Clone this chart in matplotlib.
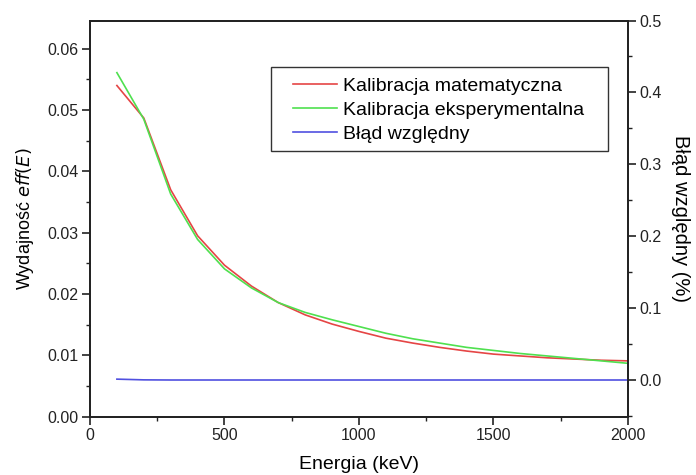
import matplotlib
matplotlib.use('Agg')
import matplotlib.pyplot as plt
from matplotlib.patches import Rectangle
from matplotlib.ticker import MultipleLocator, FormatStrFormatter

# Energy grid (keV)
energies = [100, 200, 300, 400, 500, 600, 700, 800, 900, 1000,
            1100, 1200, 1300, 1400, 1500, 1600, 1700, 1800, 1900, 2000]

# Efficiency from the mathematical calibration
eff_math = [0.0540, 0.0487, 0.0370, 0.0295, 0.0247, 0.0213, 0.0186, 0.0166,
            0.0151, 0.0139, 0.0128, 0.0120, 0.0113, 0.0107, 0.0102, 0.0099,
            0.0096, 0.0094, 0.0092, 0.0091]

# Efficiency from the experimental calibration
eff_exp = [0.0561, 0.0485, 0.0363, 0.0289, 0.0241, 0.0210, 0.0186, 0.0170,
           0.0158, 0.0147, 0.0136, 0.0127, 0.0120, 0.0113, 0.0108, 0.0103,
           0.0099, 0.0095, 0.0091, 0.0087]

# Relative error (%)
rel_err = [0.0012, 0.0002, 0.0, 0.0, 0.0, 0.0, 0.0, 0.0, 0.0, 0.0,
           0.0, 0.0, 0.0, 0.0, 0.0, 0.0, 0.0, 0.0, 0.0, 0.0]

plt.rcParams['font.family'] = ['Liberation Sans', 'DejaVu Sans']

fig = plt.figure(figsize=(6.96, 4.75), dpi=100)
ax = fig.add_axes([0.1293, 0.1228, 0.7730, 0.8340])
ax2 = ax.twinx()

l1, = ax.plot(energies, eff_math, color='#e54545', lw=1.2, label='Kalibracja matematyczna')
l2, = ax.plot(energies, eff_exp, color='#4fe04f', lw=1.2, label='Kalibracja eksperymentalna')
l3, = ax2.plot(energies, rel_err, color='#5050e0', lw=1.2, label='Błąd względny')

ax.set_xlim(0, 2000)
ax.set_ylim(0, 0.0646)
ax2.set_ylim(-0.051, 0.5)

ax.xaxis.set_major_locator(MultipleLocator(500))
ax.xaxis.set_minor_locator(MultipleLocator(250))
ax.yaxis.set_major_locator(MultipleLocator(0.01))
ax.yaxis.set_minor_locator(MultipleLocator(0.005))
ax.yaxis.set_major_formatter(FormatStrFormatter('%.2f'))
ax2.yaxis.set_major_locator(MultipleLocator(0.1))
ax2.yaxis.set_minor_locator(MultipleLocator(0.05))
ax2.yaxis.set_major_formatter(FormatStrFormatter('%.1f'))

for a in (ax, ax2):
    for s in a.spines.values():
        s.set_linewidth(1.3)
        s.set_color('#222222')
    a.tick_params(which='major', direction='out', length=6, width=1.2,
                  labelsize=11.5, colors='#222222', pad=2.5)
    a.tick_params(which='minor', direction='out', length=3, width=1.0,
                  colors='#222222')

ax.set_xlabel('Energia (keV)', fontsize=14, labelpad=9)
ax.set_ylabel('Wydajność $\\it{eff(E)}$', fontsize=13, labelpad=8)
ax2.set_ylabel('Błąd względny (%)', fontsize=14.5, rotation=-90, labelpad=20)

# legend entries without their own frame; the box is drawn separately
leg = ax2.legend(handles=[l1, l2, l3], loc='upper left',
                 bbox_to_anchor=(0.3773, 0.857), borderaxespad=0,
                 fontsize=14, frameon=False, borderpad=0,
                 handlelength=2.27, handletextpad=0.31, labelspacing=0.33)
box = Rectangle((0.3364, 0.6706), 0.6264, 0.2120, transform=ax2.transAxes,
                fill=False, edgecolor='#333333', linewidth=1.0, zorder=5)
ax2.add_patch(box)

fig.savefig('out.png', dpi=100)
